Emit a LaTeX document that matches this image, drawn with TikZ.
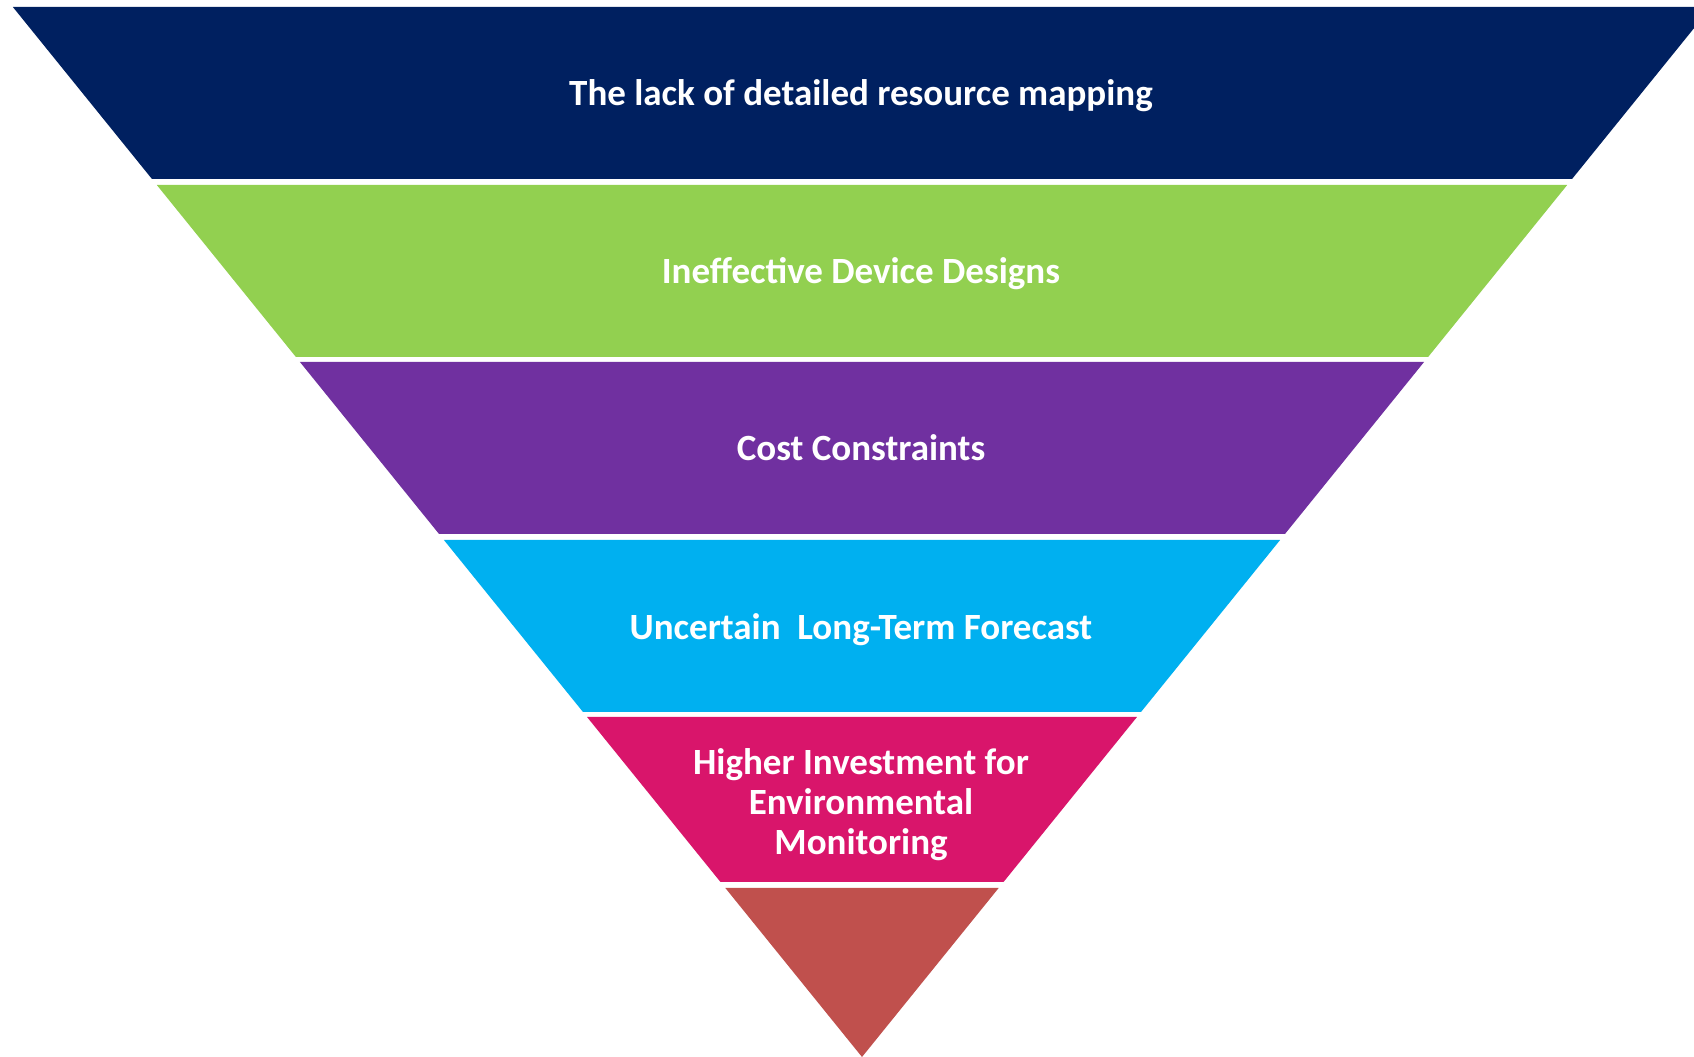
\documentclass[tikz,border=0pt]{standalone}
\usepackage{fontspec}
\setmainfont{Carlito}
\definecolor{cNavy}{HTML}{002060}
\definecolor{cGreen}{HTML}{92D050}
\definecolor{cPurple}{HTML}{7030A0}
\definecolor{cCyan}{HTML}{00B0F0}
\definecolor{cMagenta}{HTML}{D9156B}
\definecolor{cBrick}{HTML}{C0504D}
\newcommand{\kk}{0.8087}
\newcommand{\cx}{862}
\newcommand{\band}[3]{%
  \fill[#1] ({\cx-\kk*#2},#2) -- ({\cx+\kk*#2},#2) -- ({\cx+\kk*#3},#3) -- ({\cx-\kk*#3},#3) -- cycle;}
\begin{document}
\begin{tikzpicture}[x=1pt,y=1pt,
  lbl/.style={text=white,font=\fontsize{37}{40}\selectfont\bfseries,align=center}]
\useasboundingbox (0,0) rectangle (1694,1057);
\clip (0,0) rectangle (1694,1057);
\fill[white] (0,0) rectangle (1694,1057);
\band{cNavy}{1050}{878}
\band{cGreen}{872}{700}
\band{cPurple}{695}{523}
\band{cCyan}{517}{345}
\band{cMagenta}{340}{175}
\fill[cBrick] ({\cx-\kk*169},169) -- ({\cx+\kk*169},169) -- (\cx,0) -- cycle;
\node[lbl] (t1) at (861,961) {The lack of detailed resource mapping};
\node[lbl] (t2) at (861,783) {Ineffective Device Designs};
\node[lbl] (t3) at (861,609) {Cost Constraints};
\node[lbl] (t4) at (861,427) {Uncertain\ \ Long-Term Forecast};
\node[lbl] (t5) at (861,252) {Higher Investment for\\Environmental\\Monitoring};
\end{tikzpicture}
\end{document}
